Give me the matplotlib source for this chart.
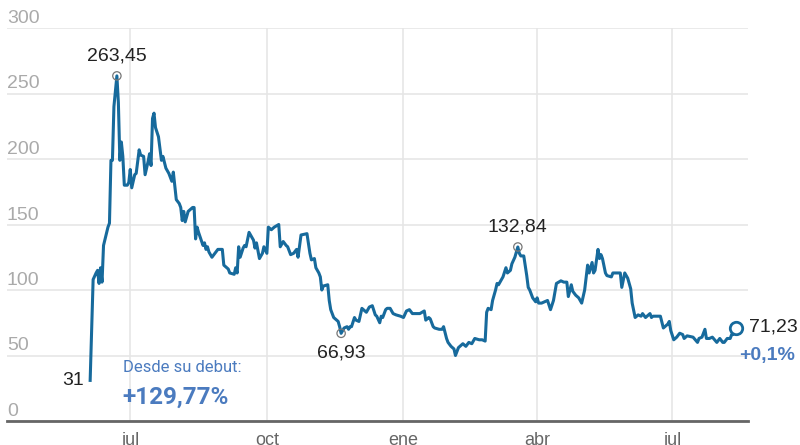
import matplotlib
matplotlib.use("Agg")
import matplotlib.pyplot as plt
import matplotlib.transforms as mtransforms
import pandas as pd

# ---------------- data ----------------
debut = "2020-06-04"
days = [0, 2, 4, 5, 6, 7, 8, 9, 12, 13, 14, 15, 16, 18, 19, 20, 21, 22, 23, 25,
        26, 27, 28, 30, 31, 33, 34, 36, 37, 39, 40, 41, 42, 43, 44, 46, 48, 49, 51, 53,
        55, 56, 58, 60, 61, 62, 63, 64, 66, 69, 70, 71, 72, 73, 76, 77, 78, 79, 80, 82,
        84, 86, 89, 90, 93, 94, 97, 98, 99, 100, 101, 103, 104, 105, 107, 110, 111, 112, 114, 116,
        117, 119, 120, 122, 124, 127, 128, 130, 132, 133, 135, 137, 139, 140, 142, 146, 148, 149, 151, 152,
        154, 155, 156, 157, 160, 161, 162, 164, 165, 167, 168, 169, 171, 173, 174, 175, 176, 178, 179, 181,
        183, 184, 186, 188, 190, 192, 193, 195, 196, 197, 199, 200, 202, 204, 206, 209, 211, 213, 215, 217,
        219, 222, 225, 226, 228, 229, 231, 232, 235, 237, 238, 240, 241, 243, 245, 246, 248, 250, 251, 253,
        255, 257, 259, 262, 264, 266, 267, 268, 270, 271, 273, 274, 275, 276, 278, 280, 281, 283, 284, 286,
        288, 289, 290, 292, 294, 295, 296, 298, 300, 301, 302, 304, 308, 310, 312, 314, 317, 319, 321, 322,
        324, 325, 327, 329, 331, 333, 335, 336, 338, 339, 340, 342, 343, 344, 345, 347, 348, 351, 352, 354,
        357, 358, 360, 362, 364, 365, 367, 369, 371, 372, 374, 375, 377, 378, 379, 384, 386, 387, 389, 390,
        391, 393, 395, 397, 399, 400, 402, 406, 409, 410, 412, 414, 415, 417, 419, 422, 424, 426, 427, 429,
        431, 432, 433, 435]
prices = [31, 108, 113, 115, 105, 117, 106, 134, 148, 151, 199, 199, 240, 263.45, 243, 199, 213, 202, 180, 180,
          182, 192, 178, 188, 189, 207, 203, 202, 188, 198, 204, 195, 231, 235, 224, 217, 199, 202, 193, 189,
          183, 190, 169, 166, 163, 153, 160, 152, 160, 163, 163, 139, 148, 144, 134, 136, 131, 133, 129, 125,
          128, 131, 131, 119, 116, 113, 112, 117, 113, 133, 125, 132, 134, 133, 144, 138, 132, 136, 124, 128,
          133, 128, 148, 146, 148, 150, 133, 137, 134, 133, 127, 128, 131, 125, 142, 143, 128, 123, 124, 117,
          113, 110, 100, 103, 104, 92, 85, 79, 78, 76, 72, 66.93, 71, 72, 70, 72, 72, 79, 77, 76,
          86, 85, 83, 87, 88, 81, 80, 75, 80, 79, 85, 86, 86, 82, 81, 80, 79, 84, 85, 82,
          82, 82, 84, 77, 79, 78, 72, 71, 70, 70, 72, 63, 60, 57, 55, 50, 56, 58, 59, 57,
          60, 59, 63, 62, 62, 61, 83, 86, 85, 92, 100, 105, 104, 106, 110, 117, 113, 115, 120, 125,
          132.84, 128, 126, 126, 111, 102, 100, 94, 91, 94, 90, 90, 92, 85, 92, 105, 107, 106, 106, 95,
          104, 99, 96, 94, 90, 100, 119, 113, 121, 113, 115, 131, 124, 127, 124, 113, 111, 110, 113, 113,
          113, 102, 113, 109, 101, 90, 79, 81, 80, 82, 79, 80, 82, 79, 80, 80, 71, 72, 74, 76,
          69, 62, 64, 67, 66, 63, 65, 64, 60, 63, 64, 70, 63, 63, 64, 60, 63, 60, 60, 63,
          63, 66, 66, 71.23]
highlight_days = [18, 169, 288]
month_ticks = ["2020-07-01", "2020-10-01", "2021-01-01", "2021-04-01", "2021-07-01"]
month_labels = ["jul", "oct", "ene", "abr", "jul"]
y_ticks = [0, 50, 100, 150, 200, 250, 300]
debut_label = "Desde su debut:"
last_change = "+0,1%"

# ---------------- derived ----------------
start = pd.Timestamp(debut)
dates = start + pd.to_timedelta(days, unit="D")
series = pd.Series(prices, index=dates)


def fmt(v):
    return f"{v:.2f}".replace(".", ",")


total_pct = (prices[-1] / prices[0] - 1) * 100
total_txt = f"+{total_pct:.2f}%".replace(".", ",")

LINE = "#176a9c"
BLUE = "#4b7bbf"
GRID = "#e6e6e6"

plt.rcParams["font.family"] = ["Liberation Sans", "DejaVu Sans"]

W, H = 800, 445
fig = plt.figure(figsize=(W / 100, H / 100), dpi=100)
ax = fig.add_axes([7 / W, 24 / H, 741 / W, 393 / H])

ax.set_ylim(0, 300)
ax.set_xlim(pd.Timestamp("2020-07-01") - pd.Timedelta(days=83),
            pd.Timestamp("2021-07-01") + pd.Timedelta(days=51))

for s in ["top", "left", "right"]:
    ax.spines[s].set_visible(False)
ax.spines["bottom"].set_color("#666666")
ax.spines["bottom"].set_linewidth(2)
ax.spines["bottom"].set_zorder(5)

ax.set_yticks(y_ticks)
ax.set_yticklabels([])
ax.tick_params(axis="y", length=0)
ax.set_xticks(pd.to_datetime(month_ticks))
ax.set_xticklabels(month_labels, fontsize=13, color="#666666")
ax.tick_params(axis="x", length=0, pad=8)
ax.grid(True, color=GRID, linewidth=1.2, zorder=0)
ax.set_axisbelow(True)

ytr = mtransforms.offset_copy(mtransforms.blended_transform_factory(ax.transAxes, ax.transData),
                              fig=fig, x=0, y=5, units="dots")
for v in y_ticks:
    ax.text(0, v, str(v), transform=ytr, ha="left", va="baseline", fontsize=14,
            color="#aaaaaa")

ax.plot(series.index, series.values, color=LINE, linewidth=2.2, zorder=3,
        solid_joinstyle="round")

hl = series.loc[start + pd.to_timedelta(highlight_days, unit="D")]
ax.scatter(hl.index, hl.values, s=36, facecolors="none", edgecolors="#777777",
           linewidths=0.9, zorder=4)
ax.scatter([series.index[-1]], [series.values[-1]], s=80, facecolors="white",
           edgecolors=LINE, linewidths=2.0, zorder=5)

px = 0.72  # points per pixel
for d, v in hl.items():
    off = -20 if v < 100 else 20
    ax.annotate(fmt(v), (d, v), xytext=(0, off * px), textcoords="offset points",
                ha="center", va="center", fontsize=14, color="#222222")

ax.annotate(f"{prices[0]:.0f}", (series.index[0], prices[0]), xytext=(-6 * px, 0),
            textcoords="offset points", ha="right", va="center", fontsize=14, color="#222222")
ax.annotate(fmt(prices[-1]), (series.index[-1], prices[-1]), xytext=(13 * px, 1 * px),
            textcoords="offset points", ha="left", va="center", fontsize=14, color="#222222")
ax.annotate(last_change, (series.index[-1], prices[-1]), xytext=(3 * px, -28 * px),
            textcoords="offset points", ha="left", va="center", fontsize=14,
            fontweight="bold", color=BLUE)

fig.text(123 / W, 1 - 367 / H, debut_label, ha="left", va="center", fontsize=12,
         color=BLUE, family=["Roboto", "DejaVu Sans"])
fig.text(122 / W, 1 - 397 / H, total_txt, ha="left", va="center", fontsize=17.5,
         fontweight="bold", color=BLUE, family=["Roboto", "DejaVu Sans"])

fig.savefig("out.png", dpi=100)
